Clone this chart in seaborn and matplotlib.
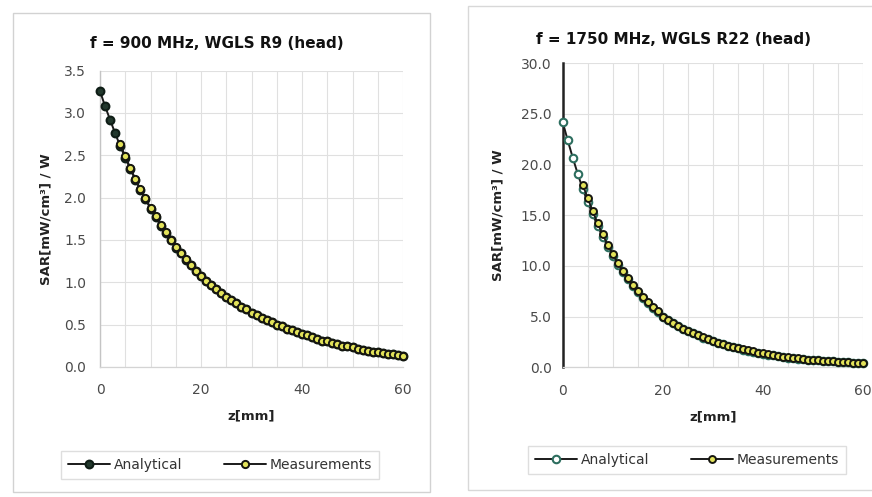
import matplotlib
matplotlib.use("Agg")
import matplotlib.pyplot as plt
from matplotlib.patches import Rectangle
from matplotlib.ticker import FormatStrFormatter, MultipleLocator
import seaborn as sns
import pandas as pd

# ---------------- data ----------------
z_analytical = list(range(0, 61))
z_measured = list(range(4, 61))

sar900_analytical = [3.26, 3.08, 2.92, 2.76, 2.61, 2.47, 2.34, 2.21, 2.09, 1.98,
                     1.87, 1.77, 1.67, 1.58, 1.50, 1.41, 1.34, 1.26, 1.20, 1.13,
                     1.07, 1.02, 0.97, 0.92, 0.87, 0.83, 0.79, 0.75, 0.71, 0.68,
                     0.64, 0.61, 0.58, 0.55, 0.53, 0.50, 0.48, 0.45, 0.43, 0.41,
                     0.39, 0.37, 0.35, 0.33, 0.31, 0.30, 0.28, 0.27, 0.25, 0.24,
                     0.23, 0.21, 0.20, 0.19, 0.18, 0.17, 0.16, 0.15, 0.146, 0.14, 0.13]
sar900_measured = [2.63, 2.49, 2.35, 2.22, 2.10, 1.99, 1.88, 1.78, 1.68, 1.59,
                   1.50, 1.42, 1.34, 1.27, 1.20, 1.13, 1.07, 1.02, 0.97, 0.92,
                   0.87, 0.83, 0.79, 0.75, 0.71, 0.68, 0.64, 0.61, 0.58, 0.55,
                   0.53, 0.50, 0.48, 0.45, 0.43, 0.41, 0.39, 0.37, 0.35, 0.33,
                   0.31, 0.30, 0.28, 0.27, 0.25, 0.24, 0.23, 0.21, 0.20, 0.19,
                   0.18, 0.17, 0.16, 0.15, 0.15, 0.14, 0.13]

sar1750_analytical = [24.2, 22.4, 20.7, 19.1, 17.6, 16.3, 15.1, 13.9, 12.9, 11.9,
                      11.0, 10.1, 9.4, 8.7, 8.0, 7.4, 6.8, 6.3, 5.8, 5.4,
                      5.0, 4.66, 4.36, 4.08, 3.82, 3.58, 3.35, 3.13, 2.93, 2.75,
                      2.57, 2.41, 2.25, 2.11, 1.97, 1.85, 1.73, 1.62, 1.51, 1.42,
                      1.33, 1.24, 1.16, 1.09, 1.02, 0.95, 0.90, 0.85, 0.80, 0.76,
                      0.72, 0.68, 0.64, 0.61, 0.57, 0.54, 0.51, 0.48, 0.46, 0.43, 0.41]
sar1750_measured = [18.0, 16.7, 15.4, 14.2, 13.1, 12.1, 11.2, 10.3, 9.5, 8.8,
                    8.1, 7.5, 6.9, 6.4, 5.9, 5.5, 5.0, 4.7, 4.35, 4.07,
                    3.8, 3.57, 3.34, 3.13, 2.94, 2.76, 2.59, 2.43, 2.28, 2.14,
                    2.0, 1.88, 1.76, 1.65, 1.55, 1.45, 1.36, 1.27, 1.19, 1.11,
                    1.04, 0.97, 0.91, 0.86, 0.81, 0.76, 0.72, 0.68, 0.64, 0.61,
                    0.58, 0.55, 0.52, 0.49, 0.46, 0.44, 0.42]

titles = ["f = 900 MHz, WGLS R9 (head)", "f = 1750 MHz, WGLS R22 (head)"]
x_ticks = [0, 20, 40, 60]
y_limits = [(0, 3.5), (0, 30.0)]
y_steps = [0.5, 5.0]
series_names = ["Analytical", "Measurements"]
y_label = "SAR[mW/cm³] / W"
x_label = "z[mm]"

# ---------------- figure ----------------
sns.set_theme(style="white")
plt.rcParams['font.family'] = ['DejaVu Sans']

W, H = 872, 497
fig = plt.figure(figsize=(W / 100, H / 100), dpi=100)
fig.patch.set_facecolor("white")


def fx(px):
    return px / W


def fy(py):
    return 1 - py / H


# panel frames
fig.patches.append(Rectangle((fx(12.5), fy(492)), fx(430 - 12.5), (492 - 13) / H,
                             transform=fig.transFigure, fill=False,
                             edgecolor="#d2d2d2", lw=1.0))
fig.patches.append(Rectangle((fx(468), fy(490)), fx(872 - 468 + 5), (490 - 6) / H,
                             transform=fig.transFigure, fill=False,
                             edgecolor="#d8d8d8", lw=1.0))

ax_specs = [
    dict(x0=100, x1=403, ytop=70.7, ybot=366.8),
    dict(x0=562.7, x1=862.7, ytop=63.3, ybot=367.2),
]

data_sets = [
    (sar900_analytical, sar900_measured),
    (sar1750_analytical, sar1750_measured),
]

title_pos = [(217, 43), (673.5, 39)]
ylab_x = [46, 498]
xlab_y = [416, 417]
legend_pos = [(220, 465), (687, 460)]

for i, spec in enumerate(ax_specs):
    ax = fig.add_axes([fx(spec["x0"]), fy(spec["ybot"]),
                       fx(spec["x1"] - spec["x0"]), (spec["ybot"] - spec["ytop"]) / H])
    ax.set_facecolor("white")
    ana, meas = data_sets[i]
    df_a = pd.DataFrame({"z": z_analytical, "sar": ana})
    df_m = pd.DataFrame({"z": z_measured, "sar": meas})

    if i == 0:
        a_face, a_edge, msz = "#22382d", "#0f1d16", 5.6
    else:
        a_face, a_edge, msz = "white", "#2d6e5f", 5.4

    sns.lineplot(data=df_a, x="z", y="sar", ax=ax, color="#1a1a1a", lw=1.4,
                 marker="o", markersize=msz, markerfacecolor=a_face,
                 markeredgecolor=a_edge, markeredgewidth=1.5,
                 label=series_names[0], clip_on=False, zorder=3)
    sns.lineplot(data=df_m, x="z", y="sar", ax=ax, color="#1a1a1a", lw=1.4,
                 marker="o", markersize=msz - 0.4, markerfacecolor="#e3e35a",
                 markeredgecolor="#161610", markeredgewidth=1.4,
                 label=series_names[1], clip_on=False, zorder=4)

    ax.set_xlim(0, 60)
    ax.set_ylim(*y_limits[i])
    ax.set_xticks(x_ticks)
    ax.xaxis.set_minor_locator(MultipleLocator(5))
    ax.yaxis.set_major_locator(MultipleLocator(y_steps[i]))
    ax.yaxis.set_major_formatter(FormatStrFormatter("%.1f"))
    ax.grid(True, which="major", axis="y", color="#e0e0e0", lw=0.8)
    ax.grid(True, which="both", axis="x", color="#e0e0e0", lw=0.8)
    ax.set_axisbelow(True)
    ax.set_xlabel("")
    ax.set_ylabel("")

    for s in ["top", "right"]:
        ax.spines[s].set_visible(False)
    ax.spines["bottom"].set_color("#d4d4d4")
    ax.spines["bottom"].set_linewidth(0.9)
    if i == 0:
        ax.spines["left"].set_color("#c4c4c4")
        ax.spines["left"].set_linewidth(1.0)
        ax.tick_params(axis="y", length=3, color="#c4c4c4", pad=7,
                       labelsize=10, labelcolor="#4a4a4a")
    else:
        ax.spines["left"].set_color("#222222")
        ax.spines["left"].set_linewidth(1.8)
        ax.tick_params(axis="y", length=4, width=1.5, color="#222222", pad=4,
                       labelsize=10, labelcolor="#4a4a4a", direction="out")
    ax.tick_params(axis="x", which="both", length=0, pad=12, labelsize=10,
                   labelcolor="#4a4a4a")

    fig.text(fx(title_pos[i][0]), fy(title_pos[i][1]), titles[i],
             ha="center", va="center", fontsize=11, fontweight="bold", color="#111111")
    yc = (spec["ytop"] + spec["ybot"]) / 2
    fig.text(fx(ylab_x[i]), fy(yc), y_label, rotation=90, ha="center", va="center",
             fontsize=9.5, fontweight="bold", color="#222222")
    xc = (spec["x0"] + spec["x1"]) / 2
    fig.text(fx(xc), fy(xlab_y[i]), x_label, ha="center", va="center",
             fontsize=9.5, fontweight="bold", color="#222222")

    handles, labels = ax.get_legend_handles_labels()
    leg = ax.legend(handles, labels, loc="center", ncol=2,
                    bbox_to_anchor=(fx(legend_pos[i][0]), fy(legend_pos[i][1])),
                    bbox_transform=fig.transFigure, frameon=True, fancybox=False,
                    edgecolor="#d6d6d6", fontsize=10, handlelength=3.0,
                    columnspacing=3.0, handletextpad=0.3, borderpad=0.5,
                    borderaxespad=0)
    leg.get_frame().set_linewidth(1.0)
    for t in leg.get_texts():
        t.set_color("#333333")

fig.savefig("out.png", dpi=100, facecolor="white")
